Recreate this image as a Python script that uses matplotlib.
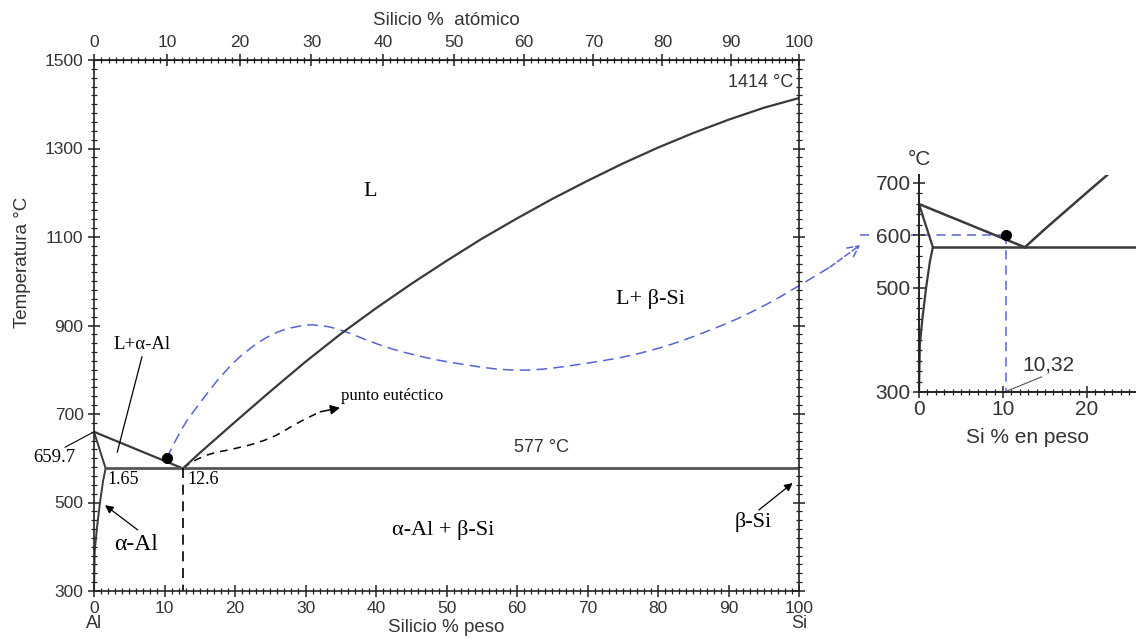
import numpy as np
import matplotlib
matplotlib.use("Agg")
import matplotlib.pyplot as plt
from matplotlib.path import Path
from matplotlib.patches import PathPatch
from matplotlib.ticker import MultipleLocator, FixedLocator

# Liquidus on the Si side (wt% Si, °C)
liq_si_wt = [12.6, 15, 20, 25, 30, 35, 40, 45, 50, 55, 60, 65, 70, 75, 80, 85, 90, 95, 100]
liq_si_t = [577, 612, 682, 751, 818, 881, 939, 994, 1046, 1096, 1142, 1186, 1227, 1266,
            1302, 1335, 1365, 1392, 1414]

# Liquidus on the Al side
liq_al_wt = [0, 12.6]
liq_al_t = [659.7, 577]

# Solidus and solvus of alpha-Al
sol_wt = [0, 1.65]
sol_t = [659.7, 577]
solvus_wt = [1.65, 1.3, 0.85, 0.4, 0.1, 0.0]
solvus_t = [577, 550, 500, 440, 390, 300]

# Eutectic
eut_wt = [1.65, 100]
eut_t = [577, 577]
eut_x = 12.6
point_wt, point_t = 10.32, 600

# Blue dashed link from the point towards the zoom panel
link_wt = [10.32, 12.2, 15.0, 18.3, 21.7, 25.4, 28.8, 31.6, 35.3, 39.6, 45.2, 52.3, 60.4,
           68.9, 78.4, 87.8, 94.9, 99.7, 104.4, 108.7]
link_t = [600, 664, 725, 793, 845, 883, 899, 903, 890, 860, 833, 811, 795,
          811, 838, 890, 942, 987, 1032, 1082]

# Black dashed arrow to "punto eutéctico"
eut_arrow_wt = [12.6, 15.0, 20.7, 25.4, 28.8, 32.1, 34.9]
eut_arrow_t = [577, 607, 623, 646, 680, 705, 714]

SANS = "Liberation Sans"
SERIF = "Liberation Serif"
TXT = "#333333"
LINE = "#3a3a3a"
BLUE = "#5564d8"


def wt2at(w):
    w = np.asarray(w, dtype=float)
    a = w / 28.0855
    b = (100 - w) / 26.98
    return 100 * a / (a + b)


def at2wt(x):
    x = np.asarray(x, dtype=float)
    a = x * 28.0855
    b = (100 - x) * 26.98
    return 100 * a / (a + b)


def smooth_path(xs, ys):
    # quadratic curve through the midpoints, read points act as control points
    verts = [(xs[0], ys[0])]
    codes = [Path.MOVETO]
    for i in range(1, len(xs) - 1):
        mid = ((xs[i] + xs[i + 1]) / 2, (ys[i] + ys[i + 1]) / 2)
        verts += [(xs[i], ys[i]), mid]
        codes += [Path.CURVE3, Path.CURVE3]
    verts.append((xs[-1], ys[-1]))
    codes.append(Path.LINETO)
    return Path(verts, codes)


fig = plt.figure(figsize=(11.36, 6.39), dpi=100)
ax = fig.add_axes([94 / 1136, 1 - 591 / 639, 705 / 1136, 531 / 639])

ax.plot(liq_si_wt, liq_si_t, color=LINE, lw=1.6)
ax.plot(liq_al_wt, liq_al_t, color=LINE, lw=1.6)
ax.plot(sol_wt, sol_t, color=LINE, lw=1.4)
ax.plot(solvus_wt, solvus_t, color=LINE, lw=1.4)
ax.plot(eut_wt, eut_t, color="#555555", lw=2)
ax.plot([eut_x, eut_x], [577, 300], color="black", lw=1.2, ls=(0, (6, 4)))
ax.plot(point_wt, point_t, "o", color="black", ms=7, zorder=5)

# blue connector (goes out of the axes)
ax.add_patch(PathPatch(smooth_path(link_wt[:-1], link_t[:-1]), fill=False, edgecolor=BLUE,
                       lw=1.1, ls=(0, (7, 4)), clip_on=False))
ax.annotate("", xy=(link_wt[-1], link_t[-1]), xytext=(link_wt[-2], link_t[-2]),
            annotation_clip=False,
            arrowprops=dict(arrowstyle="->", color=BLUE, lw=1.1, mutation_scale=20,
                            linestyle=(0, (4, 2)), shrinkA=0, shrinkB=0))

# black dashed arrow
ax.add_patch(PathPatch(smooth_path(eut_arrow_wt[:-1], eut_arrow_t[:-1]), fill=False,
                       edgecolor="black", lw=1.1, ls=(0, (5, 4))))
ax.annotate("", xy=(eut_arrow_wt[-1], eut_arrow_t[-1]), xytext=(eut_arrow_wt[-2], eut_arrow_t[-2]),
            arrowprops=dict(arrowstyle="-|>", color="black", lw=1.1, mutation_scale=14,
                            shrinkA=0, shrinkB=0))
ax.text(35.1, 740, "punto eutéctico", family=SERIF, fontsize=12, ha="left", va="center")

ax.set_xlim(0, 100)
ax.set_ylim(300, 1500)

# region labels
ax.text(39.1, 1202, "L", family=SERIF, fontsize=16, ha="center", va="center")
ax.text(79, 960, "L+ β-Si", family=SERIF, fontsize=16, ha="center", va="center")
ax.text(6.8, 856, "L+α-Al", family=SERIF, fontsize=13.5, ha="center", va="center")
ax.plot([6.8, 3.3], [829, 614], color="black", lw=0.9)
ax.text(49.5, 438, "α-Al + β-Si", family=SERIF, fontsize=16, ha="center", va="center")
ax.text(5.9, 406, "α-Al", family=SERIF, fontsize=17, ha="center", va="center")
ax.annotate("", xy=(1.56, 494), xytext=(6.2, 438),
            arrowprops=dict(arrowstyle="-|>", color="black", lw=0.9, mutation_scale=12,
                            shrinkA=0, shrinkB=0))
ax.text(93.5, 456, "β-Si", family=SERIF, fontsize=16, ha="center", va="center")
ax.annotate("", xy=(99.1, 544), xytext=(94.3, 483),
            arrowprops=dict(arrowstyle="-|>", color="black", lw=0.9, mutation_scale=12,
                            shrinkA=0, shrinkB=0))

ax.text(-2.6, 601, "659.7", family=SERIF, fontsize=13.5, ha="right", va="center",
        clip_on=False)
ax.plot([-4.1, 0], [625, 659.7], color="black", lw=0.8, clip_on=False)
ax.text(1.85, 553, "1.65", family=SERIF, fontsize=13, ha="left", va="center")
ax.text(13.3, 553, "12.6", family=SERIF, fontsize=13, ha="left", va="center")
ax.text(63.5, 625, "577 °C", family=SANS, fontsize=13, color=TXT, ha="center", va="center")
ax.text(94.5, 1450, "1414 °C", family=SANS, fontsize=13, color=TXT, ha="center", va="center")

# axes styling
for sp in ax.spines.values():
    sp.set_color("#222222")
    sp.set_linewidth(1.2)
ax.xaxis.set_major_locator(MultipleLocator(10))
ax.xaxis.set_minor_locator(MultipleLocator(1))
ax.yaxis.set_major_locator(FixedLocator([300, 500, 700, 900, 1100, 1300, 1500]))
ax.yaxis.set_minor_locator(MultipleLocator(20))
ax.tick_params(which="both", direction="inout", right=True, color="#222222")
ax.tick_params(which="major", length=8, width=1.1, labelsize=12.5, labelcolor=TXT)
ax.tick_params(which="minor", length=4, width=0.9)
for lbl in ax.get_xticklabels() + ax.get_yticklabels():
    lbl.set_family(SANS)

ax.set_xlabel("Silicio % peso", family=SANS, fontsize=13.5, color=TXT, labelpad=2)
ax.set_ylabel("Temperatura °C", family=SANS, fontsize=13.5, color=TXT)
ax.yaxis.set_label_coords(-0.09, 0.618)
ax.text(0, -0.062, "Al", transform=ax.get_xaxis_transform(), family=SANS, fontsize=13,
        color=TXT, ha="center", va="center")
ax.text(100, -0.062, "Si", transform=ax.get_xaxis_transform(), family=SANS, fontsize=13,
        color=TXT, ha="center", va="center")

top = ax.secondary_xaxis("top", functions=(wt2at, at2wt))
top.xaxis.set_major_locator(FixedLocator(list(range(0, 101, 10))))
top.xaxis.set_minor_locator(FixedLocator(list(range(0, 101, 1))))
top.tick_params(which="both", direction="inout", color="#222222")
top.tick_params(which="major", length=8, width=1.1, labelsize=12.5, labelcolor=TXT)
top.tick_params(which="minor", length=4, width=0.9)
for lbl in top.get_xticklabels():
    lbl.set_family(SANS)
top.set_xlabel("Silicio %  atómico", family=SANS, fontsize=13.5, color=TXT, labelpad=7)

# zoom panel
ins = fig.add_axes([919 / 1136, 1 - 392 / 639, 217 / 1136, 217 / 639])
ins.plot(liq_si_wt, liq_si_t, color=LINE, lw=1.8)
ins.plot(liq_al_wt, liq_al_t, color=LINE, lw=1.8)
ins.plot(sol_wt, sol_t, color=LINE, lw=1.6)
ins.plot(solvus_wt, solvus_t, color=LINE, lw=1.6)
ins.plot(eut_wt, eut_t, color=LINE, lw=1.8)
ins.plot([-7, point_wt], [point_t, point_t], color=BLUE, lw=1.1, ls=(0, (6, 4)),
         clip_on=False, zorder=1)
ins.plot([point_wt, point_wt], [point_t, 300], color=BLUE, lw=1.1, ls=(0, (6, 4)))
ins.plot(point_wt, point_t, "o", color="black", ms=7, zorder=5)
ins.text(15.4, 352, "10,32", family=SANS, fontsize=15, color=TXT, ha="center", va="center")
ins.plot([14.6, 10.5], [329, 302], color="#555555", lw=0.8)

ins.set_xlim(0, 217 / 8.4)
ins.set_ylim(300, 300 + 217 / 52.25 * 100)
ins.spines["top"].set_visible(False)
ins.spines["right"].set_visible(False)
for sp in ("left", "bottom"):
    ins.spines[sp].set_color("#222222")
    ins.spines[sp].set_linewidth(1.4)
ins.xaxis.set_major_locator(FixedLocator([0, 10, 20]))
ins.xaxis.set_minor_locator(MultipleLocator(1))
ins.yaxis.set_major_locator(FixedLocator([300, 500, 600, 700]))
ins.yaxis.set_minor_locator(MultipleLocator(20))
ins.tick_params(which="both", direction="inout", color="#222222")
ins.tick_params(which="major", length=8, width=1.1, labelsize=15, labelcolor=TXT, pad=2)
ins.tick_params(which="minor", length=4, width=0.9)
for lbl in ins.get_xticklabels() + ins.get_yticklabels():
    lbl.set_family(SANS)
for lbl in ins.get_yticklabels():
    lbl.set_bbox(dict(facecolor="white", edgecolor="none", pad=0.5))
ins.set_xlabel("Si % en peso", family=SANS, fontsize=15, color=TXT, labelpad=6)
ins.text(0, 1.07, "°C", transform=ins.transAxes, family=SANS, fontsize=15, color=TXT,
         ha="center", va="center")

fig.savefig("out.png", dpi=100)
